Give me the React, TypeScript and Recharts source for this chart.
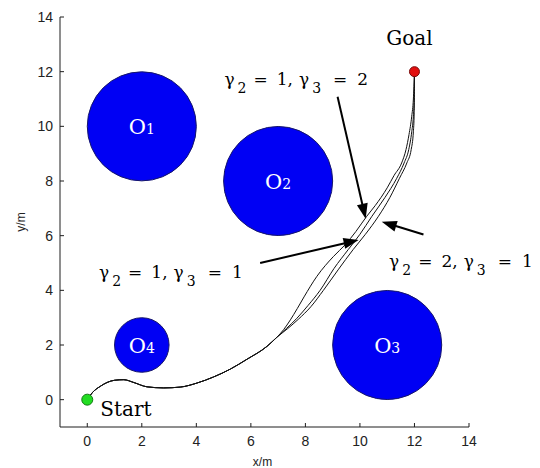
import { LineChart, Line, XAxis, YAxis, ReferenceDot, ReferenceLine } from 'recharts'

const W = 540
const H = 468
const MARGIN = { top: 17, right: 71, bottom: 0, left: 0 }
const Y_AXIS_W = 60
const X_AXIS_H = 41
const DOMAIN: [number, number] = [-1, 14]
// pixels per metre, used to size the obstacle discs in data units
const UNIT = (W - MARGIN.left - MARGIN.right - Y_AXIS_W) / (DOMAIN[1] - DOMAIN[0])

const AXIS = '#1e1e1e'
const SERIF = '"DejaVu Serif", serif'
const SANS = '"Liberation Sans", Arial, sans-serif'

const xTicks = [0, 2, 4, 6, 8, 10, 12, 14]
const yTicks = [0, 2, 4, 6, 8, 10, 12, 14]

const obstacles = [
  { id: '1', x: 2, y: 10, r: 2 },
  { id: '2', x: 7, y: 8, r: 2 },
  { id: '3', x: 11, y: 2, r: 2 },
  { id: '4', x: 2, y: 2, r: 1 },
]

const start = { x: 0, y: 0 }
const goal = { x: 12, y: 12 }

// shared part of the three trajectories
const commonLeg = [
  { x: 0, y: 0 },
  { x: 0.18, y: 0.25 },
  { x: 0.48, y: 0.49 },
  { x: 0.73, y: 0.63 },
  { x: 1.0, y: 0.71 },
  { x: 1.34, y: 0.73 },
  { x: 1.7, y: 0.63 },
  { x: 2.19, y: 0.47 },
  { x: 2.8, y: 0.43 },
  { x: 3.41, y: 0.46 },
  { x: 4.03, y: 0.61 },
  { x: 4.63, y: 0.83 },
  { x: 5.25, y: 1.12 },
  { x: 5.86, y: 1.48 },
  { x: 6.59, y: 1.95 },
  { x: 6.95, y: 2.28 },
]

// γ2 = 1, γ3 = 2
const branchG12 = [
  { x: 7.2, y: 2.56 },
  { x: 7.45, y: 2.92 },
  { x: 7.7, y: 3.33 },
  { x: 7.95, y: 3.76 },
  { x: 8.42, y: 4.51 },
  { x: 9.03, y: 5.24 },
  { x: 9.46, y: 5.67 },
  { x: 9.85, y: 6.15 },
  { x: 10.25, y: 6.71 },
  { x: 10.56, y: 7.1 },
  { x: 11.0, y: 7.75 },
  { x: 11.25, y: 8.2 },
  { x: 11.53, y: 8.66 },
  { x: 11.69, y: 9.15 },
  { x: 11.8, y: 9.7 },
  { x: 11.9, y: 10.37 },
  { x: 11.96, y: 11.0 },
  { x: 12, y: 12 },
]

// γ2 = 1, γ3 = 1
const branchG11 = [
  { x: 7.3, y: 2.6 },
  { x: 7.69, y: 2.98 },
  { x: 8.1, y: 3.45 },
  { x: 8.54, y: 4.0 },
  { x: 9.05, y: 4.8 },
  { x: 9.57, y: 5.49 },
  { x: 10.0, y: 6.05 },
  { x: 10.44, y: 6.71 },
  { x: 10.92, y: 7.4 },
  { x: 11.35, y: 8.1 },
  { x: 11.62, y: 8.66 },
  { x: 11.79, y: 9.15 },
  { x: 11.9, y: 9.8 },
  { x: 11.96, y: 10.37 },
  { x: 11.99, y: 11.0 },
  { x: 12, y: 12 },
]

// γ2 = 2, γ3 = 1
const branchG21 = [
  { x: 7.35, y: 2.6 },
  { x: 7.75, y: 2.95 },
  { x: 8.2, y: 3.4 },
  { x: 8.66, y: 4.0 },
  { x: 9.2, y: 4.75 },
  { x: 9.75, y: 5.49 },
  { x: 10.2, y: 6.05 },
  { x: 10.68, y: 6.71 },
  { x: 11.1, y: 7.4 },
  { x: 11.45, y: 8.1 },
  { x: 11.72, y: 8.66 },
  { x: 11.88, y: 9.15 },
  { x: 11.96, y: 9.8 },
  { x: 11.99, y: 10.5 },
  { x: 12, y: 12 },
]

const paths = [
  { key: 'g12', data: [...commonLeg, ...branchG12] },
  { key: 'g11', data: [...commonLeg, ...branchG11] },
  { key: 'g21', data: [...commonLeg, ...branchG21] },
]

const gammaLabels = [
  { g2: 1, g3: 2, x: 5.03, y: 11.53 },
  { g2: 1, g3: 1, x: 0.43, y: 4.46 },
  { g2: 2, g3: 1, x: 11.07, y: 4.87 },
]

// tail -> tip
const arrows = [
  [{ x: 9.18, y: 11.08 }, { x: 10.21, y: 6.62 }],
  [{ x: 6.34, y: 5.0 }, { x: 9.95, y: 5.84 }],
  [{ x: 12.33, y: 6.04 }, { x: 10.8, y: 6.51 }],
]

const XTick = ({ x, y, payload }: any) => (
  <g>
    <line x1={x} x2={x} y1={y} y2={y - 4} stroke={AXIS} />
    <text x={x} y={y + 19} textAnchor="middle" fontFamily={SANS} fontSize={14} fill="#222">
      {payload.value}
    </text>
  </g>
)

const YTick = ({ x, y, payload }: any) => (
  <g>
    <line x1={x} x2={x + 4} y1={y} y2={y} stroke={AXIS} />
    <text x={x - 7} y={y + 5} textAnchor="end" fontFamily={SANS} fontSize={14} fill="#222">
      {payload.value}
    </text>
  </g>
)

function ArrowShape(props: any) {
  const { x1, y1, x2, y2 } = props
  const dx = x2 - x1
  const dy = y2 - y1
  const len = Math.hypot(dx, dy)
  const ux = dx / len
  const uy = dy / len
  const head = 15
  const half = 5.5
  const bx = x2 - ux * head
  const by = y2 - uy * head
  const pts = `${x2},${y2} ${bx - uy * half},${by + ux * half} ${bx + uy * half},${by - ux * half}`
  return (
    <g>
      <line x1={x1} y1={y1} x2={bx + ux * 2} y2={by + uy * 2} stroke="#000" strokeWidth={2} />
      <polygon points={pts} fill="#000" />
    </g>
  )
}

function GammaText({ x, y, g2, g3 }: { x: number; y: number; g2: number; g3: number }) {
  return (
    <text x={x} y={y} fontFamily={SERIF} fontSize={17} fill="#000">
      <tspan>γ</tspan>
      <tspan dx={3} dy={8} fontSize={14}>2</tspan>
      <tspan dx={7} dy={-8}>=</tspan>
      <tspan dx={9}>{`${g2},`}</tspan>
      <tspan dx={6}>γ</tspan>
      <tspan dx={3} dy={8} fontSize={14}>3</tspan>
      <tspan dx={12} dy={-8}>=</tspan>
      <tspan dx={10}>{g3}</tspan>
    </text>
  )
}

export default function App() {
  return (
    <div style={{ position: 'absolute', left: 0, top: 0, width: W, height: H, background: '#fff' }}>
      <LineChart width={W} height={H} margin={MARGIN}>
        <XAxis
          type="number"
          dataKey="x"
          domain={DOMAIN}
          ticks={xTicks}
          allowDataOverflow
          height={X_AXIS_H}
          tickLine={false}
          tickSize={0}
          tickMargin={0}
          tick={<XTick />}
          axisLine={{ stroke: AXIS }}
          label={{
            content: (p: any) => {
              const vb = p.viewBox
              return (
                <text x={vb.x + vb.width / 2 - 2} y={466} textAnchor="middle" fontFamily={SANS} fontSize={12} fill="#222">
                  x/m
                </text>
              )
            },
          }}
        />
        <YAxis
          type="number"
          dataKey="y"
          domain={DOMAIN}
          ticks={yTicks}
          allowDataOverflow
          width={Y_AXIS_W}
          tickLine={false}
          tickSize={0}
          tickMargin={0}
          tick={<YTick />}
          axisLine={{ stroke: AXIS }}
          label={{
            content: (p: any) => {
              const vb = p.viewBox
              const cy = vb.y + vb.height / 2
              return (
                <text x={25} y={cy} transform={`rotate(-90, 25, ${cy})`} textAnchor="middle" fontFamily={SANS} fontSize={12} fill="#222">
                  y/m
                </text>
              )
            },
          }}
        />

        {obstacles.map((o) => (
          <ReferenceDot
            key={o.id}
            x={o.x}
            y={o.y}
            r={o.r * UNIT}
            shape={(p: any) => (
              <g>
                <circle cx={p.cx} cy={p.cy} r={p.r} fill="#0000f4" stroke="#16166a" strokeWidth={1} />
                <text x={p.cx} y={p.cy + 7.5} textAnchor="middle" fontFamily={SERIF} fontSize={21} fill="#fff">
                  O<tspan fontSize={14}>{o.id}</tspan>
                </text>
              </g>
            )}
          />
        ))}

        {paths.map((p) => (
          <Line
            key={p.key}
            data={p.data}
            dataKey="y"
            type="monotone"
            stroke="#111"
            strokeWidth={1}
            dot={false}
            activeDot={false}
            isAnimationActive={false}
          />
        ))}

        {arrows.map((seg, i) => (
          <ReferenceLine key={i} segment={seg} shape={ArrowShape} />
        ))}

        {gammaLabels.map((g, i) => (
          <ReferenceDot
            key={`g${i}`}
            x={g.x}
            y={g.y}
            r={1}
            shape={(p: any) => <GammaText x={p.cx} y={p.cy} g2={g.g2} g3={g.g3} />}
          />
        ))}

        <ReferenceDot
          x={start.x}
          y={start.y}
          r={5.5}
          shape={(p: any) => (
            <g>
              <circle cx={p.cx} cy={p.cy} r={p.r} fill="#22dd22" stroke="#127a12" strokeWidth={1} />
              <text x={p.cx + 13} y={p.cy + 16} fontFamily={SERIF} fontSize={20} fill="#000">
                Start
              </text>
            </g>
          )}
        />
        <ReferenceDot
          x={goal.x}
          y={goal.y}
          r={5}
          shape={(p: any) => (
            <g>
              <circle cx={p.cx} cy={p.cy} r={p.r} fill="#e21010" stroke="#7a0c0c" strokeWidth={1} />
              <text x={p.cx - 5} y={p.cy - 27} textAnchor="middle" fontFamily={SERIF} fontSize={20} fill="#000">
                Goal
              </text>
            </g>
          )}
        />
      </LineChart>
    </div>
  )
}
